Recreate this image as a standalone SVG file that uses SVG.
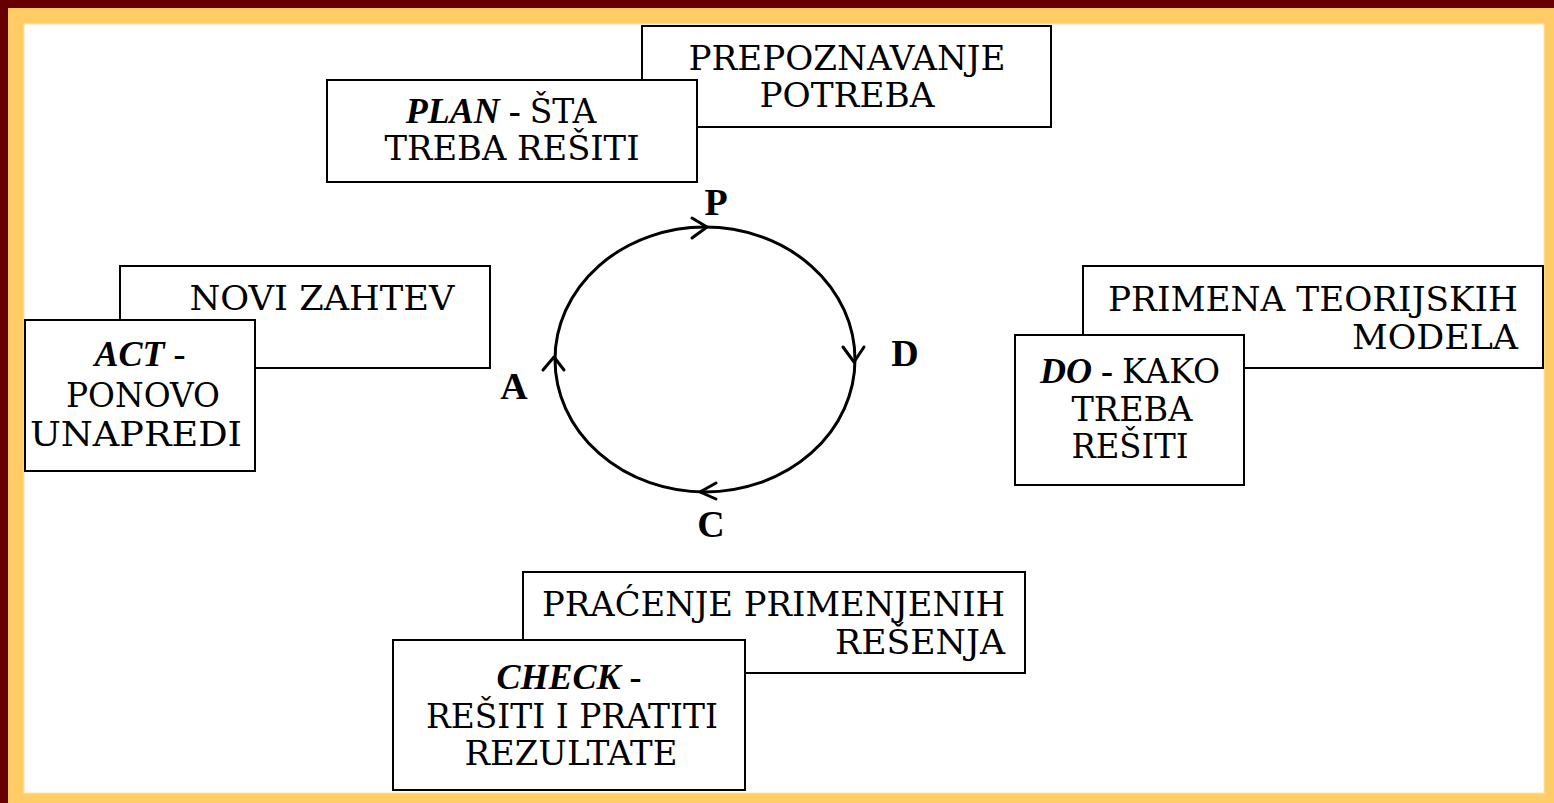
<svg xmlns="http://www.w3.org/2000/svg" width="1554" height="803" viewBox="0 0 1554 803">
<style>
.box{fill:#fff;stroke:#000;stroke-width:2}
.t{font-family:"DejaVu Serif","Liberation Serif","Times New Roman",serif;font-size:33px;fill:#000}
.c{text-anchor:middle}
.r{text-anchor:end}
.bi{font-family:"Liberation Serif","Times New Roman",serif;font-size:36px;font-weight:bold;font-style:italic}
.b{font-family:"Liberation Serif","Times New Roman",serif;font-size:36px;font-weight:bold}
.lab{font-family:"Liberation Serif","Times New Roman",serif;font-size:38px;font-weight:bold;fill:#000;text-anchor:middle}
.arr{fill:none;stroke:#000;stroke-width:3;stroke-linecap:round;stroke-linejoin:round}
</style>
<g id="frame">
<rect x="0" y="0" width="1554" height="803" fill="#660000"/>
<rect x="8" y="8" width="1546" height="795" fill="#FFCC66"/>
<rect x="24" y="24" width="1520" height="769" fill="#fff" stroke="#FFE6A8" stroke-width="1"/>
</g>
<g id="prepoznavanje">
<rect class="box" x="642" y="26" width="409" height="101"/>
<text class="t c" x="847" y="70" textLength="317" lengthAdjust="spacingAndGlyphs">PREPOZNAVANJE</text>
<text class="t c" x="847" y="107" textLength="175" lengthAdjust="spacingAndGlyphs">POTREBA</text>
</g>
<g id="plan">
<rect class="box" x="327" y="80" width="370" height="102"/>
<text class="t c" x="501" y="123"><tspan class="bi">PLAN</tspan><tspan class="b"> - </tspan>ŠTA</text>
<text class="t c" x="512" y="160" textLength="255" lengthAdjust="spacingAndGlyphs">TREBA REŠITI</text>
</g>
<g id="novi-zahtev">
<rect class="box" x="120" y="266" width="370" height="102"/>
<text class="t c" x="322" y="310" textLength="265" lengthAdjust="spacingAndGlyphs">NOVI ZAHTEV</text>
</g>
<g id="act">
<rect class="box" x="25" y="320" width="230" height="151"/>
<text class="t c" x="140" y="366"><tspan class="bi">ACT</tspan><tspan class="b"> -</tspan></text>
<text class="t c" x="143" y="407" textLength="154" lengthAdjust="spacingAndGlyphs">PONOVO</text>
<text class="t c" x="136" y="446" textLength="212" lengthAdjust="spacingAndGlyphs">UNAPREDI</text>
</g>
<g id="primena">
<rect class="box" x="1083" y="266" width="460" height="102"/>
<text class="t r" x="1518" y="311" textLength="410" lengthAdjust="spacingAndGlyphs">PRIMENA TEORIJSKIH</text>
<text class="t r" x="1518" y="349" textLength="166" lengthAdjust="spacingAndGlyphs">MODELA</text>
</g>
<g id="do">
<rect class="box" x="1015" y="335" width="229" height="150"/>
<text class="t c" x="1130" y="383"><tspan class="bi">DO</tspan><tspan class="b"> - </tspan>KAKO</text>
<text class="t c" x="1132" y="421" textLength="121" lengthAdjust="spacingAndGlyphs">TREBA</text>
<text class="t c" x="1130" y="458" textLength="117" lengthAdjust="spacingAndGlyphs">REŠITI</text>
</g>
<g id="pracenje">
<rect class="box" x="523" y="572" width="502" height="101"/>
<text class="t r" x="1005" y="616" textLength="463" lengthAdjust="spacingAndGlyphs">PRAĆENJE PRIMENJENIH</text>
<text class="t r" x="1005" y="654" textLength="170" lengthAdjust="spacingAndGlyphs">REŠENJA</text>
</g>
<g id="check">
<rect class="box" x="393" y="640" width="352" height="150"/>
<text class="t c" x="569" y="689"><tspan class="bi">CHECK</tspan><tspan class="b"> -</tspan></text>
<text class="t c" x="572" y="728" textLength="292" lengthAdjust="spacingAndGlyphs">REŠITI I PRATITI</text>
<text class="t c" x="571" y="765" textLength="213" lengthAdjust="spacingAndGlyphs">REZULTATE</text>
</g>
<g id="connectors">
<ellipse cx="705" cy="359.5" rx="150" ry="132.5" fill="none" stroke="#000" stroke-width="3"/>
<polyline class="arr" points="692,218 707,227 692,238"/>
<polyline class="arr" points="843,347 854,362 864,347"/>
<polyline class="arr" points="716,483 700,492 716,499"/>
<polyline class="arr" points="543,370 554,357 564,370"/>
</g>
<g id="labels">
<text class="lab" x="716" y="215">P</text>
<text class="lab" x="905" y="366">D</text>
<text class="lab" x="514" y="399">A</text>
<text class="lab" x="711" y="537">C</text>
</g>
</svg>
